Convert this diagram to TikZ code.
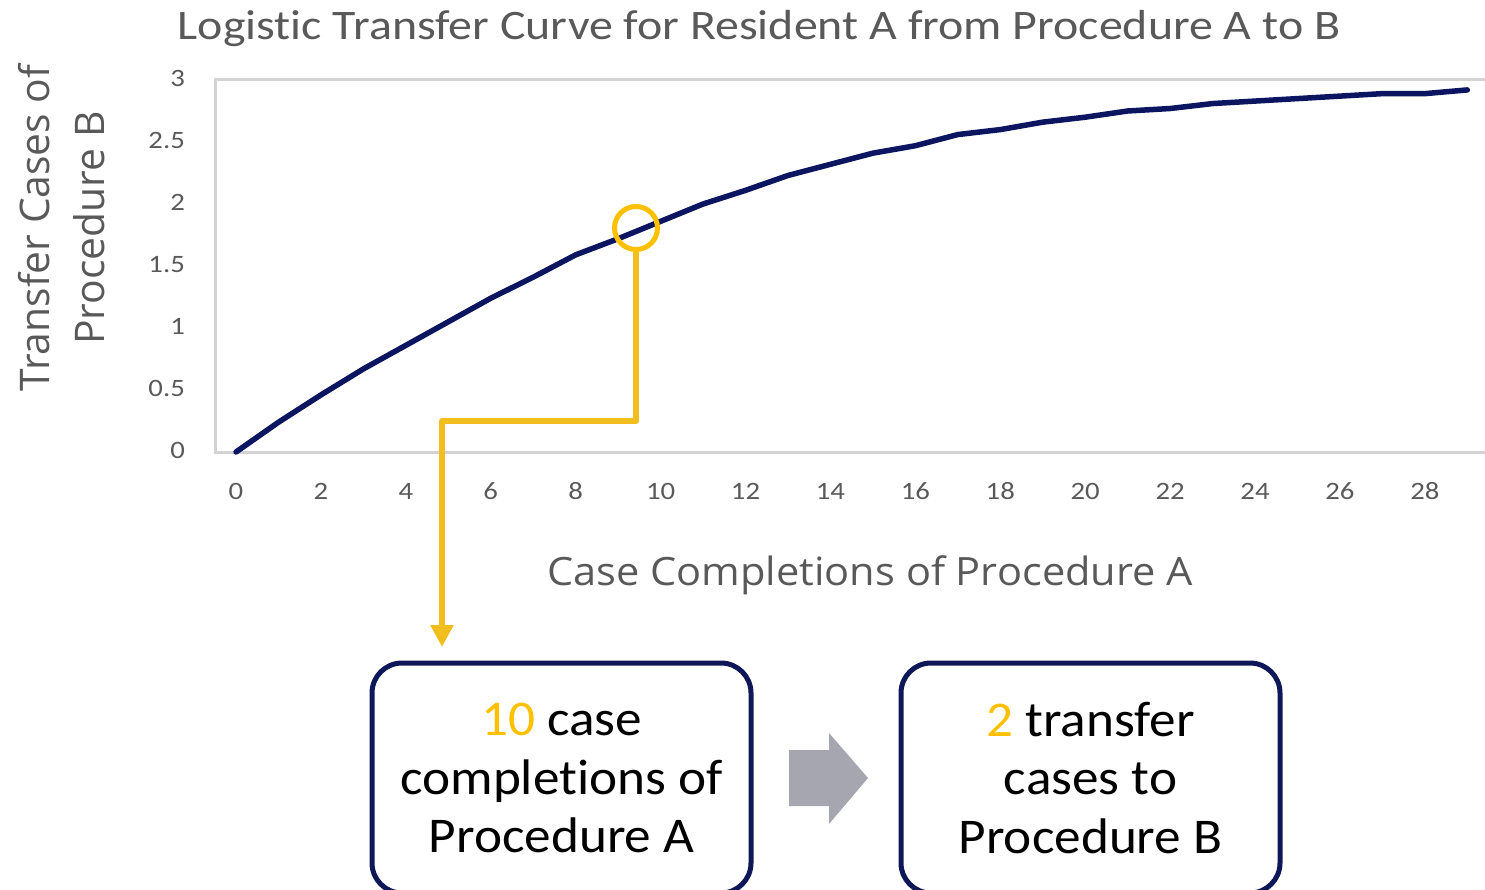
\documentclass[tikz,border=0pt]{standalone}
\usepackage{fontspec}
\setmainfont[Ligatures=NoCommon]{Carlito}
\newfontfamily\titlefont[FakeStretch=1.14,Ligatures=NoCommon]{Carlito}
\newfontfamily\tickfont[FakeStretch=1.15,Ligatures=NoCommon]{Carlito}
\newfontfamily\boxfont[FakeStretch=1.065,Ligatures=NoCommon]{Carlito}
\newfontfamily\axisfont{Open Sans}
\newfontfamily\xaxisfont[FakeStretch=1.065]{Open Sans}
\usetikzlibrary{arrows.meta}
\definecolor{navy}{HTML}{0B1560}
\definecolor{boxnavy}{HTML}{0E1758}
\definecolor{gold}{HTML}{FFC000}
\definecolor{goldline}{HTML}{F2BE1E}
\definecolor{txtgray}{HTML}{595959}
\definecolor{gridgray}{HTML}{D3D3D3}
\definecolor{blockgray}{HTML}{A6A6B0}
\begin{document}
\begin{tikzpicture}[x=1pt,y=-1pt,
  curve/.style={draw=navy,line width=5.5pt,line join=round,line cap=round},
  frame/.style={draw=gridgray,line width=3pt},
  tick/.style={text=txtgray,font=\tickfont\fontsize{25pt}{28pt}\selectfont,inner sep=0pt},
  ytitlestyle/.style={text=txtgray,font=\axisfont\fontsize{40.8pt}{55pt}\selectfont,align=center,inner sep=0pt},
  xtitlestyle/.style={text=txtgray,font=\xaxisfont\fontsize{39pt}{50pt}\selectfont,inner sep=0pt},
  ttl/.style={text=txtgray,font=\titlefont\fontsize{42pt}{50pt}\selectfont,inner sep=0pt},
  marker/.style={circle,draw=gold,line width=5pt,minimum size=43pt,inner sep=0pt},
  conn/.style={draw=goldline,line width=6pt,line join=round,-{Triangle[length=22pt,width=22pt]}},
  infobox/.style={draw=boxnavy,line width=5pt,rounded corners=30pt,minimum width=379pt,minimum height=230pt,align=center,inner sep=0pt,font=\boxfont\fontsize{50pt}{58.5pt}\selectfont},
  blockarrow/.style={fill=blockgray,draw=none}
]
\useasboundingbox (0,0) rectangle (1485,890);
\clip (0,0) rectangle (1485,890);

% title
\node[ttl] (title) at (759,29) {Logistic Transfer Curve for Resident A from Procedure A to B};

% plot frame
\draw[frame] (1495,80) -- (215,80) -- (215,452) -- (1495,452);

% axis titles
\node[ytitlestyle,rotate=90] (ytitle) at (62,228) {Transfer Cases of\\Procedure B};
\node[xtitlestyle] (xtitle) at (870,575) {Case Completions of Procedure A};

\begin{scope}[shift={(236,452)},x=42.46pt,y=124pt]
  \foreach \i in {0,2,...,28}
    \node[tick] (xl\i) at (\i,-0.315) {\i};
  \foreach \v [count=\k] in {0,0.5,1,1.5,2,2.5,3}
    \node[tick,anchor=east] (yl\k) at (-1.2,\v+0.015) {\v};
  \draw[curve] plot coordinates {(0,0) (1,0.24) (2,0.46) (3,0.67) (4,0.86) (5,1.05) (6,1.24) (7,1.41) (8,1.59) (9,1.72) (10,1.86) (11,2.0) (12,2.11) (13,2.23) (14,2.32) (15,2.41) (16,2.47) (17,2.56) (18,2.6) (19,2.66) (20,2.7) (21,2.75) (22,2.77) (23,2.81) (24,2.83) (25,2.85) (26,2.87) (27,2.89) (28,2.89) (29,2.92)};
\end{scope}

% marker and connector
\node[marker] (mark) at (636,228) {};
\coordinate (elbow) at (442,421);
\coordinate (tgt) at (442,647);
\draw[conn] (mark.south) |- (elbow) -- (tgt);

% boxes
\node[infobox] (boxA) at (561.5,778) {\textcolor{gold}{10} case\\completions of\\Procedure A};
\node[infobox] (boxB) at (1090.5,778) {\textcolor{gold}{2} transfer\\cases to\\Procedure B};

% block arrow
\path[blockarrow] (789,750) -- (829,750) -- (829,733) -- (868,778) -- (829,824) -- (829,806) -- (789,806) -- cycle;
\end{tikzpicture}
\end{document}
